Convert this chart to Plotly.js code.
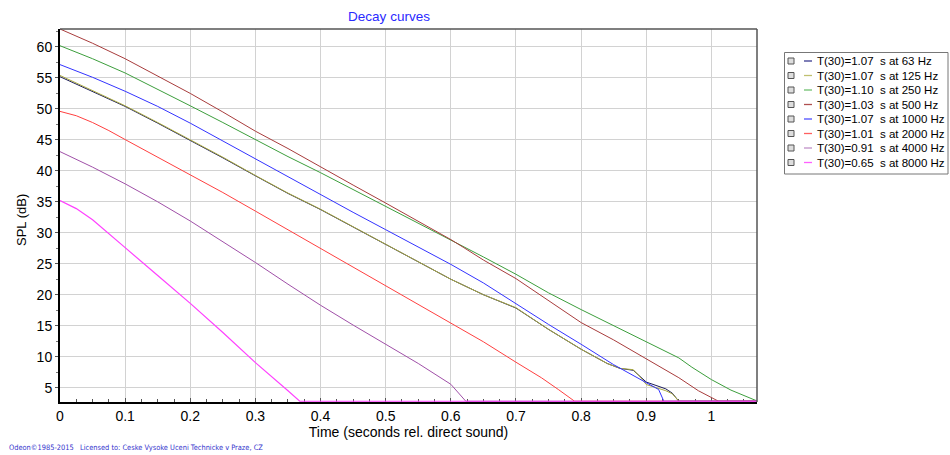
<!DOCTYPE html>
<html>
<head>
<meta charset="utf-8">
<script src="https://cdn.plot.ly/plotly-3.0.1.min.js"></script>
<style>html,body{margin:0;padding:0;background:#fff;}#chart{width:950px;height:455px;}</style>
</head>
<body>
<div id="chart"></div>
<script>
// ---- data ----
const FLOOR = 2.8;
const freqs = [63, 125, 250, 500, 1000, 2000, 4000, 8000];
const t30s = [1.07, 1.07, 1.10, 1.03, 1.07, 1.01, 0.91, 0.65];

const t63  = [0, 0.05, 0.1, 0.15, 0.2, 0.25, 0.3, 0.35, 0.4, 0.45, 0.5, 0.55, 0.6, 0.65, 0.7, 0.75, 0.8, 0.84, 0.86, 0.88, 0.89, 0.9, 0.93, 0.94, 0.95, 1.07];
const v63  = [55.2, 52.8, 50.4, 47.7, 44.95, 42.1, 39.2, 36.35, 33.75, 30.95, 28.15, 25.3, 22.5, 20.0, 17.85, 14.4, 11.2, 8.9, 8.1, 7.8, 6.9, 5.9, 4.8, 4.1, FLOOR, FLOOR];
const t125 = [0, 0.05, 0.1, 0.15, 0.2, 0.25, 0.3, 0.35, 0.4, 0.45, 0.5, 0.55, 0.6, 0.65, 0.7, 0.75, 0.8, 0.84, 0.86, 0.88, 0.89, 0.9, 0.93, 0.94, 0.95, 1.07];
const v125 = [55.4, 53.0, 50.5, 47.8, 45.05, 42.2, 39.25, 36.4, 33.8, 31.0, 28.2, 25.3, 22.5, 20.0, 17.9, 14.4, 11.2, 8.9, 8.1, 7.9, 6.8, 5.5, 4.5, 4.0, FLOOR, FLOOR];
const t250 = [0, 0.05, 0.1, 0.15, 0.2, 0.25, 0.3, 0.35, 0.4, 0.45, 0.5, 0.55, 0.6, 0.65, 0.7, 0.75, 0.8, 0.85, 0.9, 0.95, 0.97, 1.0, 1.03, 1.07];
const v250 = [60.2, 58.1, 55.8, 53.2, 50.5, 47.8, 45.05, 42.3, 39.7, 37.0, 34.3, 31.6, 28.8, 26.1, 23.3, 20.3, 17.6, 15.0, 12.3, 9.8, 8.3, 6.3, 4.6, 2.85];
const t500 = [0, 0.05, 0.1, 0.15, 0.2, 0.25, 0.3, 0.35, 0.4, 0.45, 0.5, 0.55, 0.6, 0.62, 0.65, 0.7, 0.75, 0.8, 0.85, 0.9, 0.95, 0.98, 1.011, 1.07];
const v500 = [62.9, 60.6, 58.1, 55.3, 52.5, 49.5, 46.4, 43.6, 40.6, 37.7, 34.8, 31.9, 28.9, 27.6, 25.6, 22.6, 19.1, 15.5, 12.7, 9.6, 6.6, 4.5, FLOOR, FLOOR];
const t1000 = [0, 0.05, 0.1, 0.15, 0.2, 0.25, 0.3, 0.35, 0.4, 0.45, 0.5, 0.55, 0.6, 0.65, 0.7, 0.75, 0.8, 0.85, 0.9, 0.919, 0.927, 1.07];
const v1000 = [57.15, 55.1, 52.85, 50.4, 47.7, 44.8, 41.9, 39.0, 36.1, 33.3, 30.5, 27.7, 24.9, 21.9, 18.5, 15.2, 12.0, 8.7, 5.8, 4.7, FLOOR, FLOOR];
const t2000 = [0, 0.025, 0.05, 0.075, 0.1, 0.15, 0.2, 0.25, 0.3, 0.35, 0.4, 0.45, 0.5, 0.55, 0.6, 0.65, 0.7, 0.714, 0.739, 0.765, 0.79, 1.07];
const v2000 = [49.6, 48.9, 47.8, 46.5, 45.05, 42.2, 39.4, 36.5, 33.5, 30.5, 27.4, 24.4, 21.4, 18.5, 15.5, 12.4, 9.1, 8.2, 6.6, 4.7, FLOOR, FLOOR];
const t4000 = [0, 0.05, 0.1, 0.15, 0.2, 0.25, 0.3, 0.35, 0.4, 0.45, 0.5, 0.55, 0.6, 0.623, 1.07];
const v4000 = [43.1, 40.6, 37.9, 35.0, 31.9, 28.6, 25.2, 21.7, 18.3, 15.1, 12.0, 8.9, 5.54, FLOOR, FLOOR];
const t8000 = [0, 0.025, 0.05, 0.075, 0.1, 0.15, 0.2, 0.25, 0.3, 0.35, 0.368, 1.07];
const v8000 = [35.2, 33.9, 32.1, 29.9, 27.6, 23.1, 18.6, 13.9, 9.03, 4.5, FLOOR, FLOOR];

const xTimes = [t63, t125, t250, t500, t1000, t2000, t4000, t8000];
const yLevels = [v63, v125, v250, v500, v1000, v2000, v4000, v8000];

// ---- styles ----
const colors = ['#1c1c5a', '#a8a840', '#3c9e3c', '#a83c3c', '#3333ff', '#ff4040', '#a050a8', '#ff40ff'];
const legendColors = ['#3a3a90', '#c0c070', '#70c070', '#b05050', '#5050ff', '#ff6060', '#c090c8', '#ff60ff'];

const names = freqs.map((f, i) => 'T(30)=' + t30s[i].toFixed(2) + '\u00a0\u00a0s at ' + f + ' Hz');

const traces = freqs.map((f, i) => ({
  type: 'scatter', mode: 'lines',
  x: xTimes[i], y: yLevels[i], name: names[i],
  line: {color: colors[i], width: i === 7 ? 1.2 : 1},
  showlegend: false
}));

// plot area in px
const L = 60, R = 757, T = 29, B = 402;
const px2x = p => (p - L) / (R - L);
const px2y = p => (B - p) / (B - T);

const shapes = [
  {type: 'line', xref: 'paper', yref: 'paper', x0: 0, x1: 1, y0: 1, y1: 1, line: {color: '#555', width: 1.5}},
  {type: 'line', xref: 'paper', yref: 'paper', x0: 1, x1: 1, y0: 0, y1: 1, line: {color: '#555', width: 1.5}},
  {type: 'rect', xref: 'paper', yref: 'paper', x0: px2x(784.5), x1: px2x(948), y0: px2y(52.5), y1: px2y(174),
   line: {color: '#777', width: 1}, fillcolor: 'rgba(0,0,0,0)'}
];
const annotations = [
  {text: 'SPL (dB)', xref: 'paper', yref: 'paper', x: px2x(21), y: px2y(220), textangle: -90,
   showarrow: false, xanchor: 'center', yanchor: 'middle', font: {family: 'Liberation Sans, Arial', size: 13, color: '#000'}},
  {text: 'Odeon\u00a91985-2015\u00a0\u00a0\u00a0Licensed to: Ceske Vysoke Uceni Technicke v Praze, CZ', xref: 'paper', yref: 'paper',
   x: px2x(7), y: px2y(447), showarrow: false, xanchor: 'left', yanchor: 'middle',
   font: {family: 'DejaVu Sans Condensed, DejaVu Sans', size: 7.4, color: '#3333cc'}}
];
const rowY = [61, 75.5, 90, 104.5, 119, 133.5, 148, 162.5];
names.forEach((n, i) => {
  const y = px2y(rowY[i]);
  shapes.push({type: 'rect', xref: 'paper', yref: 'paper', x0: px2x(788), x1: px2x(794), y0: px2y(rowY[i] + 3), y1: px2y(rowY[i] - 3),
    line: {color: '#555', width: 1}, fillcolor: '#ddd'});
  shapes.push({type: 'line', xref: 'paper', yref: 'paper', x0: px2x(804), x1: px2x(812), y0: y, y1: y,
    line: {color: legendColors[i], width: 1.3}});
  annotations.push({text: n, xref: 'paper', yref: 'paper', x: px2x(815), y: y, showarrow: false,
    xanchor: 'left', yanchor: 'middle', font: {family: 'Liberation Sans, Arial', size: 11.5, color: '#000'}});
});

const layout = {
  width: 950, height: 455,
  margin: {l: L, r: 950 - R, t: T, b: 455 - B},
  paper_bgcolor: '#fff', plot_bgcolor: '#fff',
  font: {family: 'Liberation Sans, Arial', size: 13, color: '#000'},
  title: {text: 'Decay curves', x: 389 / 950, xref: 'container', xanchor: 'center', y: 1 - 16 / 455, yref: 'container', yanchor: 'middle',
          font: {family: 'Liberation Sans, Arial', size: 13.5, color: '#2a2aff'}},
  xaxis: {
    range: [0, 1.07], dtick: 0.1, tick0: 0, showgrid: true, gridcolor: '#d2d2d2', gridwidth: 1,
    zeroline: false, showline: true, linecolor: '#000', linewidth: 2, layer: 'below traces',
    ticks: 'inside', ticklen: 4, tickcolor: '#555',
    minor: {dtick: 0.025, ticks: 'inside', ticklen: 3, tickcolor: '#555', showgrid: false},
    tickfont: {size: 14}, fixedrange: true,
    title: {text: 'Time (seconds rel. direct sound)', font: {size: 14}, standoff: 4}
  },
  yaxis: {
    range: [2.68, 62.9], dtick: 5, tick0: 0, showgrid: true, gridcolor: '#d2d2d2', gridwidth: 1,
    zeroline: false, showline: true, linecolor: '#000', linewidth: 2, layer: 'below traces',
    ticks: 'outside', ticklen: 3, tickcolor: '#555',
    minor: {dtick: 2.5, ticks: 'outside', ticklen: 2, tickcolor: '#777', showgrid: false},
    tickfont: {size: 14}, fixedrange: true
  },
  showlegend: false,
  shapes: shapes,
  annotations: annotations
};

Plotly.newPlot('chart', traces, layout, {staticPlot: true, displayModeBar: false});
</script>
</body>
</html>
